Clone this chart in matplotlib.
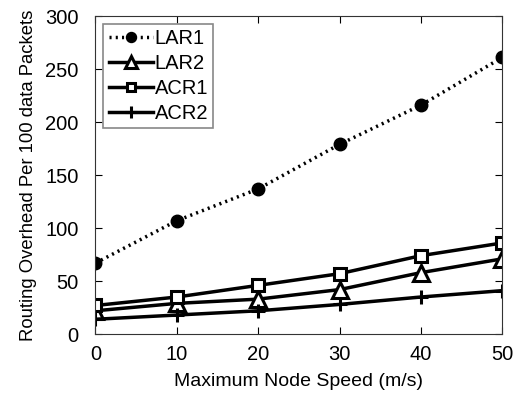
import matplotlib
matplotlib.use('Agg')
import matplotlib.pyplot as plt

speed = [0, 10, 20, 30, 40, 50]
lar1 = [67, 107, 137, 179, 216, 261]
lar2 = [22, 29, 33, 42, 58, 71]
acr1 = [27, 35, 46, 57, 74, 86]
acr2 = [14, 18, 22, 28, 35, 41]

plt.rcParams['font.family'] = ['Liberation Sans', 'DejaVu Sans']
plt.rcParams['font.size'] = 14

fig = plt.figure(figsize=(5.13, 3.94), dpi=100)
ax = fig.add_axes([0.186, 0.152, 0.793, 0.807])

ax.plot(speed, lar1, color='black', linestyle=(0, (0.6, 1.2)), linewidth=2.5, marker='o', markersize=9,
        label='LAR1')
ax.plot(speed, lar2, color='black', linestyle='-', linewidth=2.5, marker='^', markersize=11,
        markerfacecolor='white', markeredgewidth=2.2, label='LAR2')
ax.plot(speed, acr1, color='black', linestyle='-', linewidth=2.5, marker='s', markersize=8,
        markerfacecolor='white', markeredgewidth=2.2, label='ACR1')
ax.plot(speed, acr2, color='black', linestyle='-', linewidth=2.5, marker='+', markersize=10,
        markeredgewidth=2.2, label='ACR2')

ax.set_xlim(0, 50)
ax.set_ylim(0, 300)
ax.set_xticks(speed)
ax.set_yticks([0, 50, 100, 150, 200, 250, 300])
ax.tick_params(direction='in', top=True, right=True, length=5, width=0.8, labelsize=14.5)
ax.tick_params(axis='x', pad=8)
ax.tick_params(axis='y', pad=12)
for s in ax.spines.values():
    s.set_linewidth(0.8)
    s.set_color('#333333')

ax.set_xlabel('Maximum Node Speed (m/s)', fontsize=14, labelpad=6)
ax.set_ylabel('Routing Overhead Per 100 data Packets', fontsize=13.3, labelpad=6)

leg = ax.legend(loc='upper left', fancybox=False, handlelength=2.2, handletextpad=0.1,
                borderpad=0.25, labelspacing=0.3, borderaxespad=0.4, framealpha=1,
                markerscale=0.8, fontsize=14.5)
leg.get_frame().set_edgecolor('#888888')
leg.get_frame().set_linewidth(1.2)

fig.savefig('out.png', dpi=100)
